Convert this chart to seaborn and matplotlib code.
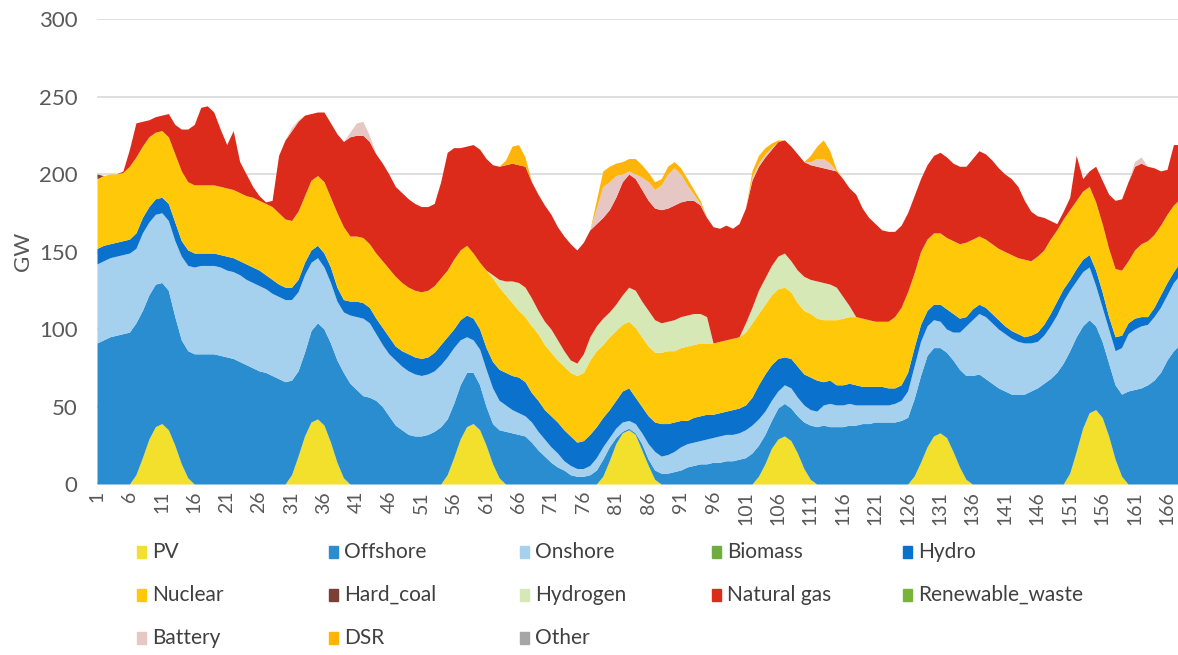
import matplotlib
matplotlib.use("Agg")
import matplotlib.pyplot as plt
from matplotlib.patches import Rectangle
import seaborn as sns

# Hourly generation mix over one week (GW), hours 1..168
hours = list(range(1, 169))

pv = [0, 0, 0, 0, 0, 0, 6, 17, 29, 37, 39, 35,
      25, 13, 4, 0, 0, 0, 0, 0, 0, 0, 0, 0,
      0, 0, 0, 0, 0, 0, 6, 18, 31, 40, 42, 38,
      27, 14, 4, 0, 0, 0, 0, 0, 0, 0, 0, 0,
      0, 0, 0, 0, 0, 0, 6, 17, 29, 37, 39, 35,
      25, 13, 4, 0, 0, 0, 0, 0, 0, 0, 0, 0,
      0, 0, 0, 0, 0, 0, 5, 15, 26, 33, 35, 32,
      22, 12, 3, 0, 0, 0, 0, 0, 0, 0, 0, 0,
      0, 0, 0, 0, 0, 0, 5, 13, 23, 29, 31, 28,
      20, 10, 3, 0, 0, 0, 0, 0, 0, 0, 0, 0,
      0, 0, 0, 0, 0, 0, 5, 14, 24, 31, 33, 30,
      21, 11, 3, 0, 0, 0, 0, 0, 0, 0, 0, 0,
      0, 0, 0, 0, 0, 0, 7, 21, 36, 46, 48, 43,
      31, 16, 5, 0, 0, 0, 0, 0, 0, 0, 0, 0]

offshore = [91, 93, 95, 96, 97, 98, 98, 95, 93, 92, 91, 90,
            83, 80, 82, 84, 84, 84, 84, 83, 82, 81, 79, 77,
            75, 73, 72, 70, 68, 66, 61, 55, 54, 59, 62, 62,
            64, 66, 68, 65, 61, 57, 56, 54, 50, 44, 38, 35,
            32, 31, 31, 32, 34, 37, 36, 35, 35, 35, 33, 29,
            25, 26, 31, 34, 33, 32, 31, 27, 22, 18, 14, 11,
            9, 6, 5, 5, 6, 9, 11, 9, 4, 1, 1, 1,
            4, 4, 6, 7, 7, 8, 9, 11, 12, 13, 13, 14,
            14, 15, 15, 16, 17, 20, 20, 19, 18, 20, 21, 21,
            24, 30, 35, 37, 38, 37, 37, 37, 38, 38, 39, 39,
            40, 40, 40, 40, 41, 43, 50, 56, 59, 57, 55, 55,
            59, 63, 67, 70, 71, 68, 65, 62, 60, 58, 58, 58,
            60, 62, 65, 68, 72, 78, 79, 74, 66, 60, 54, 49,
            47, 48, 53, 60, 61, 62, 64, 67, 72, 80, 86, 90]

onshore = [51, 51, 51, 51, 51, 51, 48, 50, 47, 45, 45, 45,
           49, 54, 55, 56, 57, 57, 57, 57, 56, 56, 56, 55,
           55, 55, 54, 53, 53, 53, 52, 51, 50, 44, 42, 40,
           39, 38, 39, 44, 47, 50, 48, 43, 40, 40, 42, 41,
           41, 40, 39, 39, 39, 40, 40, 36, 29, 23, 21, 23,
           24, 23, 19, 17, 15, 14, 13, 13, 12, 11, 10, 9,
           6, 6, 5, 5, 6, 8, 8, 6, 6, 6, 5, 6,
           7, 10, 12, 11, 12, 13, 15, 15, 15, 15, 16, 16,
           17, 17, 17, 17, 18, 18, 17, 15, 13, 11, 12, 13,
           12, 11, 10, 10, 13, 15, 14, 14, 14, 13, 12, 12,
           11, 11, 11, 12, 13, 17, 21, 22, 19, 18, 17, 15,
           18, 24, 32, 36, 39, 40, 39, 38, 37, 36, 34, 33,
           31, 30, 31, 34, 37, 40, 39, 36, 35, 34, 26, 22,
           22, 22, 30, 37, 39, 40, 39, 41, 42, 42, 44, 45]

biomass = [0] * 168

hydro = [10, 10, 9, 9, 9, 9, 10, 10, 10, 10, 10, 11,
         12, 10, 10, 9, 8, 8, 8, 8, 9, 9, 9, 10,
         10, 10, 9, 9, 8, 8, 8, 8, 8, 8, 8, 9,
         10, 9, 8, 9, 10, 10, 10, 10, 11, 11, 9, 10,
         11, 11, 11, 11, 12, 13, 13, 12, 13, 14, 14, 13,
         14, 17, 20, 21, 22, 23, 22, 19, 20, 19, 20, 20,
         20, 19, 17, 18, 20, 20, 19, 18, 18, 20, 21, 17,
         17, 18, 19, 21, 20, 19, 17, 15, 16, 16, 16, 15,
         15, 15, 16, 16, 16, 18, 22, 24, 23, 21, 18, 19,
         20, 20, 21, 20, 15, 15, 13, 13, 13, 13, 12, 12,
         12, 12, 11, 10, 10, 12, 12, 11, 10, 10, 11, 13,
         12, 9, 6, 7, 6, 6, 6, 6, 5, 5, 5, 4,
         5, 6, 7, 8, 9, 8, 7, 8, 8, 8, 10, 10,
         8, 9, 8, 7, 7, 6, 5, 6, 8, 8, 7, 8]

nuclear = [45, 45, 45, 44, 44, 47, 49, 46, 45, 43, 43, 43,
           44, 45, 44, 44, 44, 44, 44, 44, 44, 44, 44, 44,
           45, 45, 46, 47, 46, 44, 43, 44, 43, 45, 45, 46,
           45, 48, 47, 42, 42, 42, 41, 42, 43, 44, 45, 44,
           43, 43, 43, 43, 43, 43, 43, 45, 45, 45, 42, 43,
           50, 54, 53, 50, 47, 43, 42, 43, 43, 42, 41, 40,
           41, 41, 43, 44, 48, 49, 47, 47, 45, 43, 43, 45,
           45, 45, 45, 46, 47, 46, 47, 48, 47, 47, 46, 46,
           46, 46, 46, 46, 47, 48, 46, 45, 45, 45, 45, 43,
           41, 41, 41, 40, 40, 39, 42, 43, 43, 44, 44, 43,
           42, 42, 43, 46, 50, 52, 48, 47, 46, 46, 46, 46,
           47, 48, 48, 45, 44, 44, 45, 46, 48, 49, 49, 50,
           48, 49, 48, 48, 46, 45, 45, 44, 44, 44, 44, 44,
           44, 44, 42, 40, 44, 47, 49, 47, 45, 44, 43, 41]

hard_coal = [3] + [0] * 167

hydrogen = ([0] * 60 +
            [0, 2, 5, 9, 14, 18, 19, 18, 15, 15, 15, 13,
             10, 8, 8, 12, 15, 16, 17, 16, 17, 19, 22, 24,
             23, 23, 21, 19, 19, 20, 20, 20, 20, 19, 17, 0,
             0, 0, 0, 0, 6, 10, 15, 17, 19, 21, 22, 20,
             21, 22, 22, 24, 24, 23, 21, 14, 7, 0, 0, 0] +
            [0] * 48)

natural_gas = [0, 0, 0, 0, 1, 11, 22, 16, 11, 10, 10, 15,
               19, 27, 34, 39, 50, 51, 47, 37, 28, 38, 20, 14,
               7, 3, 1, 4, 37, 51, 58, 58, 52, 43, 41, 45,
               48, 51, 55, 64, 65, 66, 66, 64, 63, 61, 58, 58,
               57, 56, 55, 54, 53, 62, 76, 72, 66, 64, 70, 73,
               72, 71, 73, 75, 76, 76, 78, 75, 75, 75, 74, 73,
               74, 75, 73, 72, 69, 66, 65, 66, 69, 73, 73, 72,
               72, 71, 72, 73, 73, 74, 74, 74, 73, 70, 64, 75,
               73, 74, 71, 73, 74, 82, 80, 78, 75, 74, 73, 74,
               75, 74, 74, 74, 74, 74, 75, 76, 76, 79, 71, 66,
               63, 59, 58, 55, 53, 51, 50, 47, 48, 50, 52, 52,
               50, 50, 49, 52, 55, 55, 54, 52, 50, 49, 46, 38,
               32, 26, 21, 12, 4, 5, 8, 29, 8, 10, 23, 28,
               35, 44, 46, 51, 54, 52, 48, 43, 35, 29, 39, 35]

renewable_waste = [0] * 168

battery = ([0] * 24 +
           [0, 0, 0, 0, 0, 0, 2, 1, 0, 0, 0, 0,
            0, 0, 0, 3, 8, 9, 4, 0, 0, 0, 0, 0] +
           [0] * 24 +
           [0, 0, 0, 0, 0, 10, 20, 18, 14, 5, 2, 3,
            8, 12, 12, 16, 22, 24, 18, 10, 4, 1, 0, 0,
            0, 0, 0, 0, 0, 2, 2, 2, 1, 0, 0, 0,
            0, 0, 2, 5, 6, 4, 0, 0, 0, 0, 0, 0] +
           [0] * 36 +
           [0, 0, 0, 0, 3, 4, 0, 0, 0, 0, 0, 0])

dsr = ([0] * 60 +
       [0, 0, 0, 3, 11, 13, 6, 0, 0, 0, 0, 0,
        0, 0, 0, 0, 0, 5, 10, 10, 8, 8, 8, 10,
        8, 6, 5, 4, 5, 4, 4, 4, 3, 2, 0, 0,
        0, 0, 0, 0, 0, 4, 5, 4, 3, 1, 0, 0,
        0, 0, 4, 8, 12, 8, 1, 0, 0, 0, 0, 0] +
       [0] * 48)

other = [0] * 168

names = ["PV", "Offshore", "Onshore", "Biomass", "Hydro", "Nuclear", "Hard_coal",
         "Hydrogen", "Natural gas", "Renewable_waste", "Battery", "DSR", "Other"]
values = [pv, offshore, onshore, biomass, hydro, nuclear, hard_coal,
          hydrogen, natural_gas, renewable_waste, battery, dsr, other]
colors = ["#F3E02C", "#2A8DD0", "#A5D0EE", "#6FAE3C", "#0A72CC", "#FFC90A", "#7B3F35",
          "#D5E8B5", "#DD2B1B", "#78B33A", "#E6C7C3", "#FFB40A", "#A6A6A6"]

for v in values:
    assert len(v) == 168, len(v)

sns.set_theme(style="white")
plt.rcParams["font.family"] = ["Lato", "DejaVu Sans"]

W, H = 1178, 655
fig = plt.figure(figsize=(W / 100, H / 100), dpi=100)
ax = fig.add_axes([97 / W, 1 - 484 / H, (W - 97) / W, (484 - 19) / H])

ax.stackplot(hours, *values, colors=colors, linewidth=0, antialiased=True)

ax.set_xlim(1, 167.7)
ax.set_ylim(0, 300)
ax.set_yticks(range(0, 301, 50))
ax.yaxis.grid(True, color="#D9D9D9", linewidth=1.2)
ax.set_axisbelow(True)
for s in ax.spines.values():
    s.set_visible(False)
ax.axhline(0, color="#BFBFBF", linewidth=1.2, zorder=0.6)

xt = list(range(1, 168, 5))
ax.set_xticks(xt)
ax.set_xticklabels([str(t) for t in xt], rotation=90)
ax.tick_params(axis="x", length=0, pad=5, labelsize=14, labelcolor="#595959")
ax.tick_params(axis="y", length=0, pad=14, labelsize=16, labelcolor="#595959")
ax.set_ylabel("GW", fontsize=16, color="#595959", labelpad=4)

# legend laid out row by row under the plot
col_x = [152, 344, 535, 727, 918]
row_y = [552, 595, 638]
for i, (name, c) in enumerate(zip(names, colors)):
    r, k = divmod(i, 5)
    tx = col_x[k]
    ty = row_y[r]
    fig.patches.append(Rectangle(((tx - 15) / W, 1 - (ty + 6) / H), 9 / W, 12 / H,
                                 transform=fig.transFigure, color=c))
    fig.text(tx / W, 1 - ty / H, name, fontsize=15, color="#404040",
             ha="left", va="center")

fig.savefig("out.png", dpi=100)
